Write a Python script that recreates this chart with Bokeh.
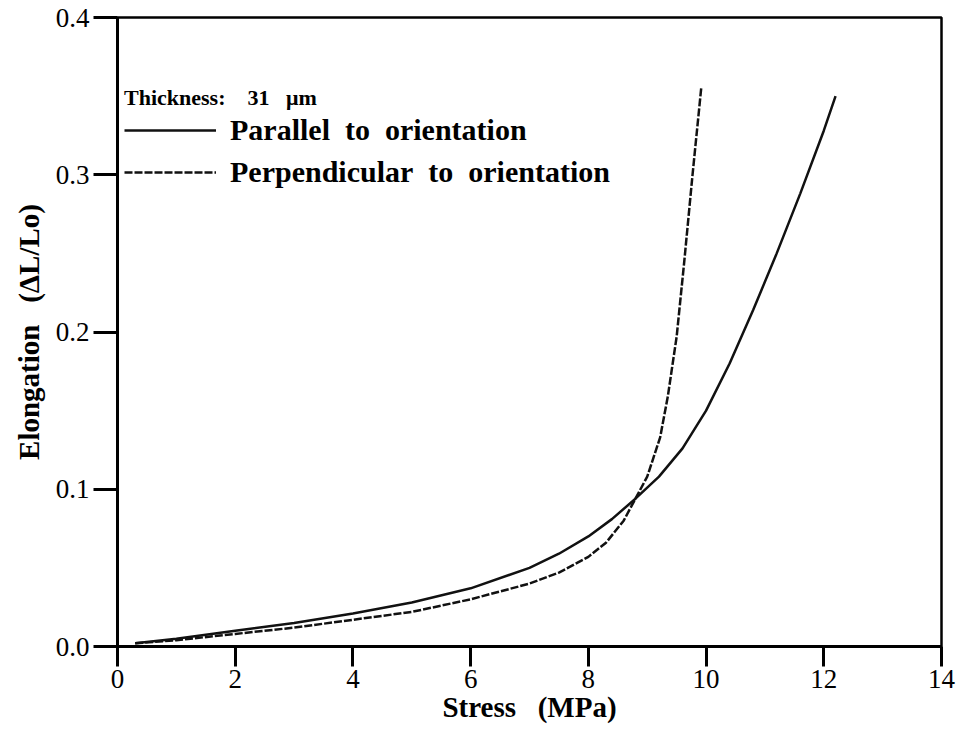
from bokeh.plotting import figure
from bokeh.models import Legend, LegendItem, FixedTicker, NumeralTickFormatter, Range1d
from bokeh.embed import file_html
from bokeh.resources import INLINE

# Data
parallel_stress = [0.3, 1.0, 2.0, 3.0, 4.0, 5.0, 6.0, 7.0, 7.5, 8.0, 8.4, 8.8, 9.2, 9.6, 10.0, 10.4, 10.8, 11.2, 11.6, 12.0, 12.2]
parallel_elong = [0.002, 0.005, 0.010, 0.015, 0.021, 0.028, 0.037, 0.050, 0.059, 0.070, 0.081, 0.094, 0.108, 0.126, 0.150, 0.180, 0.214, 0.250, 0.288, 0.328, 0.350]

perp_stress = [0.3, 1.0, 2.0, 3.0, 4.0, 5.0, 6.0, 7.0, 7.5, 8.0, 8.3, 8.6, 8.8, 9.0, 9.22, 9.35, 9.5, 9.63, 9.77, 9.92]
perp_elong = [0.002, 0.004, 0.008, 0.012, 0.017, 0.022, 0.030, 0.040, 0.047, 0.057, 0.066, 0.080, 0.094, 0.108, 0.133, 0.159, 0.197, 0.245, 0.300, 0.356]

x_ticks = [0, 2, 4, 6, 8, 10, 12, 14]
y_ticks = [0.0, 0.1, 0.2, 0.3, 0.4]

SERIF = "Liberation Serif"
NB = "\u00a0"

p = figure(width=958, height=729, output_backend="svg", toolbar_location=None,
           x_range=Range1d(0, 14), y_range=Range1d(0, 0.4),
           min_border_left=117, min_border_right=17, min_border_top=17, min_border_bottom=83)
p.frame_width = 824
p.frame_height = 629

p.xgrid.visible = False
p.ygrid.visible = False
p.outline_line_color = "black"
p.outline_line_width = 2.5

r1 = p.line(parallel_stress, parallel_elong, line_color="#111111", line_width=2.5)
r2 = p.line(perp_stress, perp_elong, line_color="#111111", line_width=2.5, line_dash="8 2")

for ax in (p.xaxis[0], p.yaxis[0]):
    ax.axis_line_width = 3
    ax.axis_line_color = "black"
    ax.major_tick_line_width = 3
    ax.major_tick_in = 0
    ax.minor_tick_line_color = None
    ax.major_label_text_font = SERIF
    ax.major_label_text_font_size = "27px"
    ax.major_label_text_color = "black"
    ax.axis_label_text_font = SERIF
    ax.axis_label_text_font_style = "bold"
    ax.axis_label_text_font_size = "29px"
    ax.axis_label_text_color = "black"

p.xaxis.ticker = FixedTicker(ticks=x_ticks)
p.yaxis.ticker = FixedTicker(ticks=y_ticks)
p.yaxis.formatter = NumeralTickFormatter(format="0.0")
p.xaxis.major_tick_out = 20
p.yaxis.major_tick_out = 24
p.xaxis.major_label_standoff = 3
p.yaxis.major_label_standoff = 4
p.xaxis.axis_label = "Stress" + NB * 3 + "(MPa)"
p.yaxis.axis_label = "Elongation" + NB * 3 + "(\u0394L/Lo)"
p.xaxis.axis_label_standoff = 0
p.yaxis.axis_label_standoff = 8

legend = Legend(items=[LegendItem(label="Parallel" + NB * 2 + "to" + NB * 2 + "orientation", renderers=[r1]),
                       LegendItem(label="Perpendicular" + NB * 2 + "to" + NB * 2 + "orientation", renderers=[r2])],
                location=(7, 455), title="Thickness:" + NB * 4 + "31" + NB * 3 + "\u03bcm")
legend.title_text_font = SERIF
legend.title_text_font_style = "bold"
legend.title_text_font_size = "22px"
legend.title_text_color = "black"
legend.title_standoff = 0
legend.label_text_font = SERIF
legend.label_text_font_style = "bold"
legend.label_text_font_size = "30px"
legend.label_text_color = "black"
legend.label_height = 38
legend.glyph_height = 38
legend.glyph_width = 92
legend.label_standoff = 14
legend.spacing = 4
legend.padding = 0
legend.margin = 0
legend.border_line_color = None
legend.background_fill_alpha = 0
p.add_layout(legend, "center")

open("out.html", "w").write(file_html(p, INLINE))
